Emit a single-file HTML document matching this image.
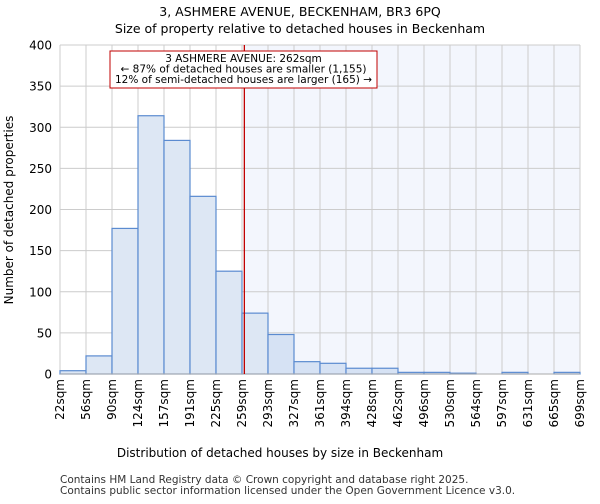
<!DOCTYPE html>
<html><head><meta charset="utf-8"><style>
body{margin:0;background:#fff;font-family:"DejaVu Sans","Liberation Sans",sans-serif}
</style></head><body>
<svg width="600" height="500" xmlns="http://www.w3.org/2000/svg" font-family="DejaVu Sans, Liberation Sans, sans-serif">
<text x="300" y="16" text-anchor="middle" font-size="12.5">3, ASHMERE AVENUE, BECKENHAM, BR3 6PQ</text>
<text x="300" y="33" text-anchor="middle" font-size="12.5">Size of property relative to detached houses in Beckenham</text>
<g id="plot"></g>
<text x="280" y="457" text-anchor="middle" font-size="12">Distribution of detached houses by size in Beckenham</text>
<text transform="translate(13,210) rotate(-90)" text-anchor="middle" font-size="12">Number of detached properties</text>
<text x="60" y="483" font-size="10.5" fill="#333">Contains HM Land Registry data © Crown copyright and database right 2025.</text>
<text x="60" y="494" font-size="10.5" fill="#333">Contains public sector information licensed under the Open Government Licence v3.0.</text>
</svg>
<script>
const categories=["22sqm","56sqm","90sqm","124sqm","157sqm","191sqm","225sqm","259sqm","293sqm","327sqm","361sqm","394sqm","428sqm","462sqm","496sqm","530sqm","564sqm","597sqm","631sqm","665sqm","699sqm"];
const counts=[4,22,177,314,284,216,125,74,48,15,13,7,7,2,2,1,0,2,0,2];
const yTicks=[0,50,100,150,200,250,300,350,400];
const binStart=22, binWidth=33.85, propertySize=262;
const X0=60,X1=580,Y0=374,Y1=45,YMAX=400;
const bw=(X1-X0)/counts.length;
const xs=v=>X0+(v-binStart)/binWidth*bw;
const ys=v=>Y0-(v/YMAX)*(Y0-Y1);
const NS="http://www.w3.org/2000/svg";
const g=document.getElementById('plot');
function mk(t,a){const e=document.createElementNS(NS,t);for(const k in a)e.setAttribute(k,a[k]);g.appendChild(e);return e;}
const px=xs(propertySize);
let e=mk('rect',{x:px,y:Y1,width:X1-px,height:Y0-Y1,fill:'#f3f6fd'});


for(let i=0;i<=counts.length;i++){
 e=mk('line',{x1:X0+i*bw,x2:X0+i*bw,y1:Y1,y2:Y0,stroke:'#cccccc'});
 
 
}
yTicks.forEach(t=>{
 e=mk('line',{x1:X0,x2:X1,y1:ys(t),y2:ys(t),stroke:'#cccccc'});
 
 
 e=mk('text',{x:X0-8,y:ys(t)+4.5,'text-anchor':'end','font-size':'12'});e.textContent=t;
 
 
});
counts.forEach((c,i)=>{
 const x=X0+i*bw;const right=x>=px-1;
 e=mk('rect',{x:x,y:ys(c),width:bw,height:Y0-ys(c),fill:right?'#d6e2f4':'#dde7f4',stroke:'#5b8bd0','stroke-width':1.2});
 
 
});
categories.forEach((c,i)=>{
 const x=X0+i*bw;
 e=mk('text',{transform:`translate(${x+4},${Y0+5}) rotate(-90)`,'text-anchor':'end','font-size':'12'});e.textContent=c;
 
 
});
e=mk('line',{x1:X0,x2:X1,y1:Y0,y2:Y0,stroke:'#aaa'});


e=mk('line',{x1:px,x2:px,y1:Y1,y2:Y0,stroke:'#c00000','stroke-width':1.3});


e=mk('rect',{x:110,y:51,width:267,height:37,fill:'#fff',stroke:'#c00000','stroke-width':1});


const lines=["3 ASHMERE AVENUE: 262sqm","← 87% of detached houses are smaller (1,155)","12% of semi-detached houses are larger (165) →"];
lines.forEach((l,i)=>{
 e=mk('text',{x:243.5,y:62+i*10.5,'text-anchor':'middle','font-size':'10.5'});e.textContent=l;
 
 
});
</script>
</body></html>
